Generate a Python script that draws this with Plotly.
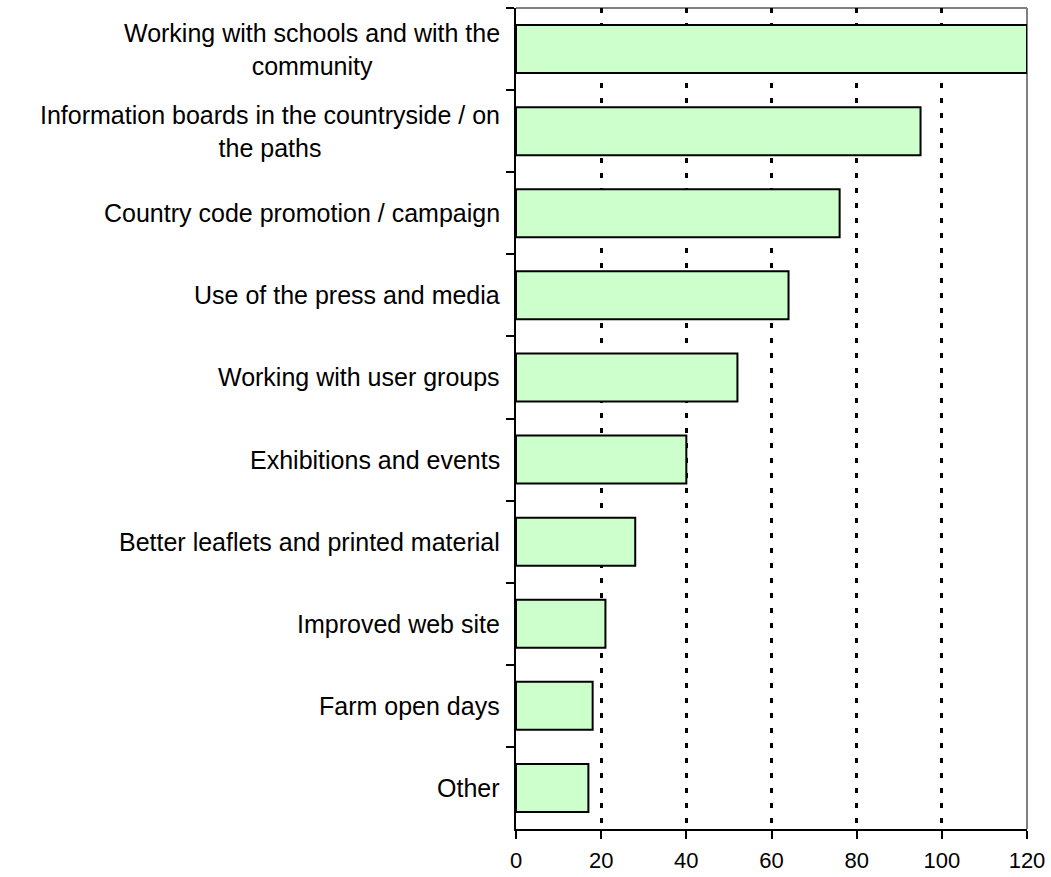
import plotly.graph_objects as go

categories = [
    "Working with schools and with the community",
    "Information boards in the countryside / on the paths",
    "Country code promotion / campaign",
    "Use of the press and media",
    "Working with user groups",
    "Exhibitions and events",
    "Better leaflets and printed material",
    "Improved web site",
    "Farm open days",
    "Other",
]
tick_labels = [
    "Working with schools and with the<br>community",
    "Information boards in the countryside / on<br>the paths",
    "Country code promotion / campaign",
    "Use of the press and media",
    "Working with user groups",
    "Exhibitions and events",
    "Better leaflets and printed material",
    "Improved web site",
    "Farm open days",
    "Other",
]
values = [120, 95, 76, 64, 52, 40, 28, 21, 18, 17]
x_ticks = [0, 20, 40, 60, 80, 100, 120]

FONT = "Liberation Sans, Arial, sans-serif"

fig = go.Figure()
fig.add_trace(go.Bar(
    x=values, y=categories, orientation="h",
    marker=dict(color="#CCFFCC", line=dict(color="black", width=2)),
    hoverinfo="x+y",
))

for cat, lab in zip(categories, tick_labels):
    fig.add_annotation(
        x=0, xref="paper", y=cat, yref="y", text=lab,
        xanchor="right", yanchor="middle", align="center", xshift=-14,
        showarrow=False, font=dict(family=FONT, size=25, color="black"),
    )

# gray frame top and right
fig.add_shape(type="line", xref="paper", yref="paper", x0=0, x1=1, y0=1, y1=1,
              line=dict(color="#808080", width=2), layer="below")
fig.add_shape(type="line", xref="paper", yref="paper", x0=1, x1=1, y0=0, y1=1,
              line=dict(color="#808080", width=2), layer="below")

fig.update_layout(
    width=1051, height=877,
    margin=dict(l=516, r=24, t=8, b=48),
    plot_bgcolor="white", paper_bgcolor="white",
    bargap=0.415, showlegend=False,
    font=dict(family=FONT, size=22, color="black"),
    xaxis=dict(
        range=[0, 120], tickvals=x_ticks, ticks="outside", ticklen=8,
        tickwidth=2, tickcolor="black", showline=True, linecolor="black",
        linewidth=2, zeroline=False, showgrid=True, gridcolor="black",
        gridwidth=2.5, griddash="5px,10px", ticklabelstandoff=3,
        automargin=False,
        tickfont=dict(family=FONT, size=22, color="black"),
    ),
    yaxis=dict(
        type="category", autorange="reversed", showticklabels=False,
        ticks="outside", tickson="boundaries", ticklen=8, tickwidth=2,
        tickcolor="black", showline=True, linecolor="black", linewidth=2,
        showgrid=False, zeroline=False, automargin=False,
    ),
)

fig.write_html("out.html")
